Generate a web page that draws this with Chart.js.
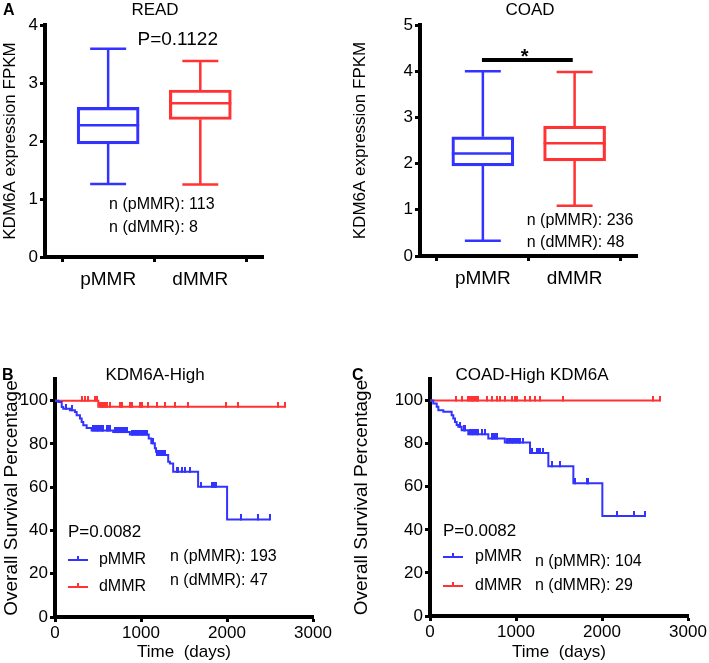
<!DOCTYPE html>
<html>
<head>
<meta charset="utf-8">
<script src="https://cdn.jsdelivr.net/npm/chart.js@4.4.1/dist/chart.umd.min.js"></script>
<style>
body { margin: 0; background: #fff; font-family: "Liberation Sans", Arial, sans-serif; }
#fig { position: relative; width: 709px; height: 663px; overflow: hidden; }
canvas { position: absolute; }
.lbl { position: absolute; font-weight: bold; font-size: 16px; line-height: 20px; }
.ttl { position: absolute; font-size: 17px; line-height: 20px; transform: translateX(-50%); white-space: nowrap; }
</style>
</head>
<body>
<div id="fig">
  <canvas id="readBox" width="350" height="300" style="left:0;top:0"></canvas>
  <canvas id="coadBox" width="359" height="300" style="left:350px;top:0"></canvas>
  <canvas id="highKm" width="350" height="303" style="left:0;top:360px"></canvas>
  <canvas id="coadKm" width="359" height="303" style="left:350px;top:360px"></canvas>
  <div class="lbl" style="left:3px;top:0">A</div>
  <div class="ttl" style="left:155px;top:0">READ</div>
  <div class="ttl" style="left:530px;top:0">COAD</div>
  <div class="lbl" style="left:2px;top:365px">B</div>
  <div class="ttl" style="left:155px;top:365px">KDM6A-High</div>
  <div class="lbl" style="left:352px;top:365px">C</div>
  <div class="ttl" style="left:532px;top:365px">COAD-High KDM6A</div>
</div>
<script>
var blue = 'rgb(51, 51, 255)';
var red = 'rgb(255, 51, 51)';
var groups = ['pMMR', 'dMMR'];

// box plots: min, q1, median, q3, max for pMMR / dMMR
var readMin = [1.26, 1.25];
var readQ1 = [1.95, 2.37];
var readMedian = [2.27, 2.65];
var readQ3 = [2.58, 2.88];
var readMax = [3.59, 3.38];
var readN = [113, 8];

var coadMin = [0.33, 1.09];
var coadQ1 = [1.95, 2.06];
var coadMedian = [2.22, 2.44];
var coadQ3 = [2.58, 2.81];
var coadMax = [4.00, 3.98];
var coadN = [236, 48];

var readTicks = [0, 1, 2, 3, 4];
var coadTicks = [0, 1, 2, 3, 4, 5];
var kmYTicks = [0, 20, 40, 60, 80, 100];
var kmXTicks = [0, 1000, 2000, 3000];

// KM curves, KDM6A-High
var highPTimes = [0, 38, 78, 96, 174, 232, 252, 290, 310, 329, 368, 426, 677, 871, 1090, 1120, 1161, 1175, 1185, 1316, 1336, 1374, 1664, 2001, 2497];
var highPSurv = [100, 99.4, 97.1, 96.3, 95.6, 94.8, 93.3, 91.7, 90.1, 88.6, 87.4, 86.2, 85.5, 84.3, 82.5, 80.3, 78.0, 76.4, 74.9, 71.8, 71.0, 67.1, 60.2, 45.1, 45.1];
var highPCensor = [130, 200, 445, 465, 484, 503, 523, 542, 561, 600, 620, 640, 697, 716, 735, 755, 774, 793, 813, 832, 890, 910, 929, 948, 968, 987, 1007, 1026, 1045, 1065, 1140, 1200, 1220, 1240, 1260, 1280, 1413, 1432, 1471, 1510, 1568, 1703, 1820, 1839, 1858, 1877, 2168, 2361, 2497];
var highDTimes = [0, 503, 2671];
var highDSurv = [100, 97.2, 97.2];
var highDCensor = [310, 348, 387, 465, 484, 523, 542, 561, 581, 600, 639, 755, 774, 871, 890, 987, 1007, 1084, 1181, 1278, 1394, 1549, 1994, 2129, 2594, 2671];
var highN = [193, 47];

// KM curves, COAD-High KDM6A
var coadPTimes = [0, 38, 78, 97, 155, 252, 271, 291, 310, 329, 368, 445, 678, 870, 1163, 1376, 1667, 2004, 2497];
var coadPSurv = [100, 98.6, 97.1, 95.5, 94.8, 93.2, 91.7, 90.1, 88.6, 87.8, 86.2, 84.4, 82.4, 80.5, 75.7, 69.5, 61.6, 46.4, 46.4];
var coadPCensor = [350, 390, 410, 465, 484, 503, 523, 542, 561, 600, 640, 717, 736, 755, 775, 892, 910, 930, 950, 970, 990, 1010, 1030, 1050, 1085, 1182, 1240, 1260, 1280, 1318, 1415, 1512, 1686, 1822, 1841, 2171, 2372, 2497];
var coadDTimes = [0, 2671];
var coadDSurv = [100, 100];
var coadDCensor = [302, 368, 445, 465, 484, 503, 523, 542, 561, 659, 717, 775, 814, 872, 950, 988, 1008, 1105, 1163, 1221, 1279, 1549, 2590, 2671];
var coadKmN = [104, 29];

Chart.defaults.font.family = "'Liberation Sans', Arial, sans-serif";
Chart.defaults.color = '#000';

function fontStr(size) {
  return size + "px 'Liberation Sans', Arial, sans-serif";
}

function fixedTicks(list) {
  return function (scale) {
    scale.ticks = list.map(function (v) { return { value: v }; });
  };
}

function axisGrid() {
  return { display: true, drawOnChartArea: false, drawTicks: true, tickLength: 5, tickWidth: 3, tickColor: '#000' };
}

// small upward censor tick used as point style
function censorMark(color) {
  var c = document.createElement('canvas');
  c.width = 2;
  c.height = 10;
  var g = c.getContext('2d');
  g.fillStyle = color;
  g.fillRect(0, 0, 2, 6);
  return c;
}

// whiskers, medians and text for the box plots
function boxExtras(mins, medians, maxs, nList, notes) {
  return {
    id: 'boxExtras',
    afterDatasetsDraw: function (chart) {
      var ctx = chart.ctx, x = chart.scales.x, y = chart.scales.y;
      var bars = chart.getDatasetMeta(0).data;
      var colors = [blue, red];
      ctx.save();
      ctx.lineWidth = 2.5;
      for (var i = 0; i < groups.length; i++) {
        var cx = x.getPixelForValue(i + 1);
        var half = bars[i].width / 2;
        var cap = half * 0.58;
        var boxTop = Math.min(bars[i].y, bars[i].base), boxBot = Math.max(bars[i].y, bars[i].base);
        ctx.strokeStyle = colors[i];
        ctx.beginPath();
        ctx.moveTo(cx, y.getPixelForValue(maxs[i]));
        ctx.lineTo(cx, boxTop);
        ctx.moveTo(cx, boxBot);
        ctx.lineTo(cx, y.getPixelForValue(mins[i]));
        ctx.moveTo(cx - cap, y.getPixelForValue(maxs[i]));
        ctx.lineTo(cx + cap, y.getPixelForValue(maxs[i]));
        ctx.moveTo(cx - cap, y.getPixelForValue(mins[i]));
        ctx.lineTo(cx + cap, y.getPixelForValue(mins[i]));
        ctx.moveTo(cx - half, y.getPixelForValue(medians[i]));
        ctx.lineTo(cx + half, y.getPixelForValue(medians[i]));
        ctx.stroke();
      }
      ctx.fillStyle = '#000';
      ctx.textBaseline = 'middle';
      if (notes.pText) {
        ctx.font = fontStr(19);
        ctx.textAlign = 'center';
        ctx.fillText(notes.pText, x.getPixelForValue(notes.pAt[0]), y.getPixelForValue(notes.pAt[1]));
      }
      if (notes.sigBar) {
        ctx.strokeStyle = '#000';
        ctx.lineWidth = 4;
        ctx.beginPath();
        ctx.moveTo(x.getPixelForValue(notes.sigBar[0]), y.getPixelForValue(notes.sigBar[2]));
        ctx.lineTo(x.getPixelForValue(notes.sigBar[1]), y.getPixelForValue(notes.sigBar[2]));
        ctx.stroke();
        ctx.font = 'bold ' + fontStr(20);
        ctx.textAlign = 'center';
        ctx.fillText('*', x.getPixelForValue((notes.sigBar[0] + notes.sigBar[1]) / 2 - 0.03), y.getPixelForValue(notes.sigBar[2]) - 3);
      }
      ctx.font = fontStr(16);
      ctx.textAlign = 'left';
      for (var j = 0; j < groups.length; j++) {
        ctx.fillText('n (' + groups[j] + '): ' + nList[j], x.getPixelForValue(notes.nAt[0]), y.getPixelForValue(notes.nAt[1 + j]));
      }
      ctx.restore();
    }
  };
}

function boxChart(id, mins, q1, medians, q3, maxs, nList, ticks, frame, notes) {
  return new Chart(document.getElementById(id), {
    type: 'bar',
    data: {
      datasets: [{
        data: groups.map(function (g, i) { return { x: i + 1, y: [q1[i], q3[i]] }; }),
        backgroundColor: 'rgba(0,0,0,0)',
        borderColor: [blue, red],
        borderWidth: 2.5,
        borderSkipped: false,
        barThickness: 62
      }]
    },
    options: {
      responsive: false,
      animation: false,
      layout: { padding: { left: 0, top: frame.top, right: frame.right, bottom: 0 } },
      plugins: { legend: { display: false }, tooltip: { enabled: false } },
      scales: {
        x: {
          type: 'linear', min: 0.315, max: 2.68, offset: false,
          afterBuildTicks: fixedTicks([1, 2]),
          afterFit: function (s) { s.height = frame.xHeight; },
          ticks: { callback: function (v) { return groups[v - 1]; }, font: { size: 19 }, padding: 6, maxRotation: 0, autoSkip: false },
          grid: axisGrid(),
          border: { display: true, width: 4, color: '#000' }
        },
        y: {
          min: 0, max: ticks[ticks.length - 1],
          afterBuildTicks: fixedTicks(ticks),
          afterFit: function (s) { s.width = frame.yWidth; },
          ticks: { font: { size: 17 }, padding: 2 },
          grid: axisGrid(),
          border: { display: true, width: 4, color: '#000' },
          title: { display: true, text: 'KDM6A expression FPKM', font: { size: 17 }, padding: 0 }
        }
      }
    },
    plugins: [boxExtras(mins, medians, maxs, nList, notes)]
  });
}

function stepPoints(times, surv) {
  return times.map(function (t, i) { return { x: t, y: surv[i] }; });
}

function censorPoints(times, surv, censor) {
  return censor.map(function (t) {
    var s = surv[0];
    for (var i = 0; i < times.length; i++) { if (times[i] <= t) s = surv[i]; }
    return { x: t, y: s };
  });
}

// P value, legend and n labels inside KM plots
function kmExtras(nList, pos) {
  return {
    id: 'kmExtras',
    afterDatasetsDraw: function (chart) {
      var ctx = chart.ctx, x = chart.scales.x, y = chart.scales.y;
      var colors = [blue, red];
      ctx.save();
      ctx.fillStyle = '#000';
      ctx.textBaseline = 'middle';
      ctx.textAlign = 'left';
      ctx.font = fontStr(17);
      ctx.fillText('P=0.0082', x.getPixelForValue(pos.pAt[0]), y.getPixelForValue(pos.pAt[1]));
      ctx.font = fontStr(16);
      for (var i = 0; i < groups.length; i++) {
        var ly = y.getPixelForValue(pos.legendY[i]);
        var x0 = x.getPixelForValue(pos.lineX[0]), x1 = x.getPixelForValue(pos.lineX[1]);
        ctx.strokeStyle = colors[i];
        ctx.lineWidth = 2;
        ctx.beginPath();
        ctx.moveTo(x0, ly);
        ctx.lineTo(x1, ly);
        ctx.moveTo((x0 + x1) / 2, ly);
        ctx.lineTo((x0 + x1) / 2, ly - 4);
        ctx.stroke();
        ctx.fillText(groups[i], x.getPixelForValue(pos.textX), ly);
        ctx.fillText('n (' + groups[i] + '): ' + nList[i], x.getPixelForValue(pos.nX), y.getPixelForValue(pos.nY[i]));
      }
      ctx.restore();
    }
  };
}

function kmChart(id, pT, pS, pC, dT, dS, dC, nList, frame, pos) {
  return new Chart(document.getElementById(id), {
    type: 'line',
    data: {
      datasets: [
        { data: stepPoints(pT, pS), stepped: true, borderColor: blue, borderWidth: 2, pointRadius: 0 },
        { data: stepPoints(dT, dS), stepped: true, borderColor: red, borderWidth: 2, pointRadius: 0 },
        { data: censorPoints(pT, pS, pC), showLine: false, borderColor: blue, pointStyle: censorMark(blue), pointRadius: 4 },
        { data: censorPoints(dT, dS, dC), showLine: false, borderColor: red, pointStyle: censorMark(red), pointRadius: 4 }
      ]
    },
    options: {
      responsive: false,
      animation: false,
      layout: { padding: { left: 0, top: frame.top, right: frame.right, bottom: 0 } },
      plugins: { legend: { display: false }, tooltip: { enabled: false } },
      scales: {
        x: {
          type: 'linear', min: 0, max: 3000,
          afterBuildTicks: fixedTicks(kmXTicks),
          afterFit: function (s) { s.height = frame.xHeight; },
          ticks: { callback: function (v) { return String(v); }, font: { size: 17 }, padding: 1, maxRotation: 0 },
          grid: axisGrid(),
          border: { display: true, width: 4, color: '#000' },
          title: { display: true, text: 'Time  (days)', font: { size: 17 }, padding: 0 }
        },
        y: {
          min: 0, max: 110,
          afterBuildTicks: fixedTicks(kmYTicks),
          afterFit: function (s) { s.width = frame.yWidth; },
          ticks: { font: { size: 17 }, padding: 2 },
          grid: axisGrid(),
          border: { display: true, width: 4, color: '#000' },
          title: { display: true, text: 'Overall Survival Percentage', font: { size: 19 }, padding: 0 }
        }
      }
    },
    plugins: [kmExtras(nList, pos)]
  });
}

boxChart('readBox', readMin, readQ1, readMedian, readQ3, readMax, readN, readTicks,
  { top: 25, right: 87, xHeight: 43, yWidth: 45 },
  { pText: 'P=0.1122', pAt: [1.755, 3.74], nAt: [1.01, 0.9, 0.5] });

boxChart('coadBox', coadMin, coadQ1, coadMedian, coadQ3, coadMax, coadN, coadTicks,
  { top: 25, right: 72, xHeight: 44, yWidth: 70 },
  { sigBar: [0.99, 1.98, 4.24], nAt: [1.478, 0.76, 0.29] });

kmChart('highKm', highPTimes, highPSurv, highPCensor, highDTimes, highDSurv, highDCensor, highN,
  { top: 19, right: 37, xHeight: 46, yWidth: 55 },
  { pAt: [151, 39.2], lineX: [151, 384], legendY: [26.4, 13.9], textX: 511, nX: 1337, nY: [27.8, 17.0] });

kmChart('coadKm', coadPTimes, coadPSurv, coadPCensor, coadDTimes, coadDSurv, coadDCensor, coadKmN,
  { top: 19, right: 21, xHeight: 47, yWidth: 80 },
  { pAt: [151, 39.5], lineX: [151, 384], legendY: [27.4, 13.9], textX: 523, nX: 1221, nY: [25.2, 13.9] });
</script>
</body>
</html>
